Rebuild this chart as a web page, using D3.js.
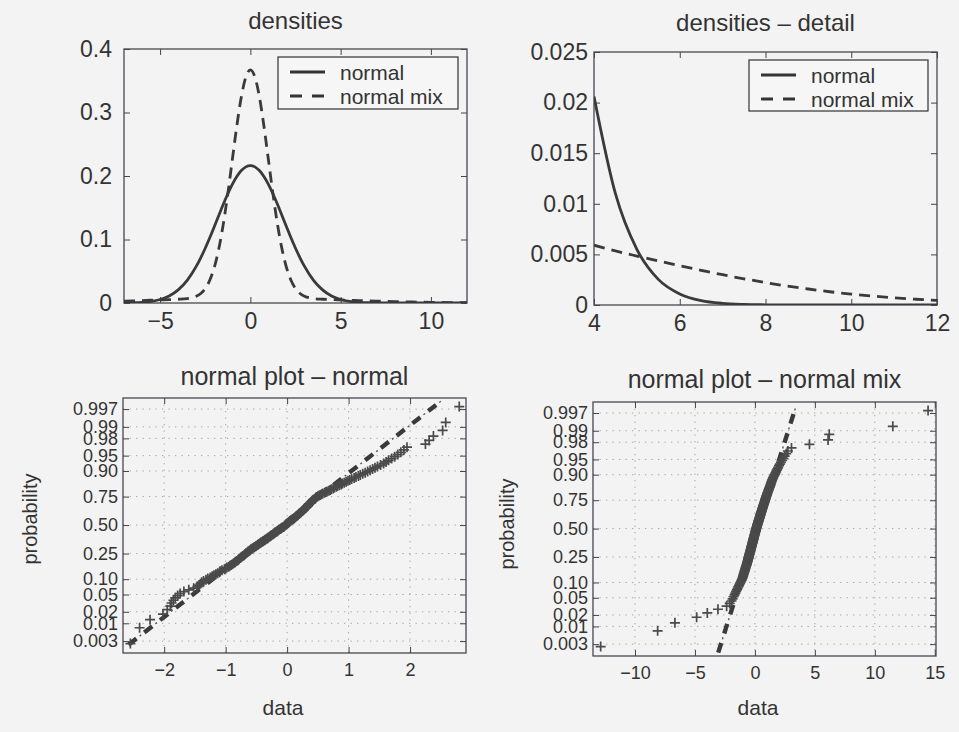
<!DOCTYPE html>
<html>
<head>
<meta charset="utf-8">
<script src="https://cdn.jsdelivr.net/npm/d3@7"></script>
<style>
  body { margin: 0; background: #f3f3f3; }
  svg { display: block; font-family: "Liberation Sans", Arial, sans-serif; }
</style>
</head>
<body>
<div id="chart"></div>
<script>
// density curves
const densityX = [-7,-6.5,-6,-5.5,-5,-4.5,-4,-3.5,-3,-2.75,-2.5,-2.25,-2,-1.75,-1.5,-1.25,-1,-0.75,-0.5,-0.25,0,
  0.25,0.5,0.75,1,1.25,1.5,1.75,2,2.25,2.5,2.75,3,3.5,4,4.5,5,5.5,6,6.5,7,7.5,8,8.5,9,9.5,10,10.5,11,11.5,12];
const normalDensity = [0.00016,0.00043,0.00109,0.00253,0.0055,0.0110,0.0206,0.0357,
  0.0576,0.0712,0.0863,0.1028,0.1202,0.1379,0.1554,0.1720,0.1868,0.1992,0.2086,0.2144,0.2164,
  0.2144,0.2086,0.1992,0.1868,0.1720,0.1554,0.1379,0.1202,0.1028,0.0863,0.0712,0.0576,
  0.0357,0.0206,0.0110,0.0055,0.00253,0.00109,0.00043,0.00016,0.00006,0.00002,0,0,0,0,0,0,0,0];
const mixDensity = [0.00299,0.00343,0.00388,0.00436,0.00484,0.00534,0.00591,0.00704,
  0.01064,0.0150,0.0228,0.0358,0.0559,0.0852,0.1242,0.1721,0.2256,0.2789,0.3248,0.3559,0.367,
  0.3559,0.3248,0.2789,0.2256,0.1721,0.1242,0.0852,0.0559,0.0358,0.0228,0.0150,0.01064,
  0.00704,0.00591,0.00534,0.00484,0.00436,0.00388,0.00343,0.00299,0.00259,0.00222,0.00188,
  0.00158,0.00131,0.00108,0.00088,0.00071,0.00057,0.00045];
const seriesNames = ["normal", "normal mix"];

const densTicksX = [-5, 0, 5, 10];
const densTicksY = [0, 0.1, 0.2, 0.3, 0.4];
const detailTicksX = [4, 6, 8, 10, 12];
const detailTicksY = [0, 0.005, 0.01, 0.015, 0.02, 0.025];

// sorted samples (n = 200)
const normalSample = [-2.55,-2.40,-2.23,-2.02,-1.95,-1.90,-1.88,-1.85,-1.82,-1.78,-1.74,-1.68,-1.60,-1.52,-1.46,-1.43,-1.41,-1.39,-1.36,-1.32,
  -1.29,-1.25,-1.22,-1.19,-1.16,-1.13,-1.10,-1.09,-1.06,-1.02,
  -1.00,-0.98,-0.95,-0.93,-0.91,-0.89,-0.87,-0.85,-0.84,-0.82,
  -0.80,-0.79,-0.78,-0.76,-0.75,-0.73,-0.72,-0.70,-0.69,-0.68,
  -0.67,-0.65,-0.64,-0.63,-0.61,-0.60,-0.59,-0.57,-0.56,-0.54,
  -0.53,-0.51,-0.50,-0.48,-0.47,-0.46,-0.44,-0.43,-0.42,-0.40,
  -0.39,-0.37,-0.36,-0.35,-0.33,-0.32,-0.31,-0.30,-0.28,-0.27,
  -0.26,-0.25,-0.23,-0.22,-0.21,-0.20,-0.19,-0.17,-0.16,-0.15,
  -0.14,-0.13,-0.11,-0.10,-0.09,-0.08,-0.06,-0.05,-0.04,-0.03,
  -0.02,-0.01,0.00,0.01,0.02,0.03,0.04,0.05,0.06,0.07,
  0.09,0.10,0.11,0.12,0.13,0.14,0.15,0.16,0.17,0.18,
  0.19,0.20,0.21,0.22,0.23,0.24,0.25,0.26,0.27,0.28,
  0.29,0.30,0.31,0.32,0.33,0.34,0.34,0.35,0.36,0.37,
  0.38,0.39,0.40,0.41,0.42,0.43,0.45,0.46,0.47,0.48,
  0.50,0.52,0.54,0.56,0.58,0.61,0.63,0.65,0.68,0.70,
  0.72,0.75,0.77,0.80,0.82,0.85,0.88,0.90,0.93,0.96,
  0.99,1.02,1.05,1.09,1.12,1.16,1.19,1.23,1.27,1.31,
  1.35,1.39,1.43,1.47,1.52,1.57,1.61,1.65,1.70,1.75,
  1.80,1.85,1.90,1.95,2.25,2.31,2.38,2.53,2.58,2.80];
const mixSample = [-12.86,-8.11,-6.67,-4.86,-3.97,-3.08,-2.36,-2.10,-1.95,
  -1.86,-1.78,-1.70,-1.63,-1.57,-1.50,-1.44,-1.39,-1.33,-1.28,-1.23,
  -1.18,-1.13,-1.09,-1.05,-1.02,-0.99,-0.97,-0.95,-0.92,-0.90,
  -0.87,-0.85,-0.83,-0.81,-0.79,-0.77,-0.75,-0.73,-0.70,-0.68,
  -0.67,-0.65,-0.63,-0.61,-0.60,-0.58,-0.57,-0.55,-0.54,-0.52,
  -0.51,-0.49,-0.48,-0.46,-0.45,-0.44,-0.42,-0.41,-0.39,-0.38,
  -0.37,-0.35,-0.34,-0.33,-0.32,-0.30,-0.29,-0.28,-0.26,-0.25,
  -0.24,-0.23,-0.21,-0.20,-0.19,-0.18,-0.17,-0.15,-0.14,-0.13,
  -0.12,-0.11,-0.09,-0.08,-0.07,-0.06,-0.05,-0.03,-0.02,-0.01,
  0.00,0.01,0.02,0.04,0.05,0.06,0.07,0.08,0.09,0.11,
  0.12,0.13,0.14,0.16,0.17,0.18,0.20,0.21,0.22,0.24,
  0.25,0.27,0.28,0.29,0.31,0.32,0.33,0.35,0.36,0.38,
  0.39,0.40,0.42,0.43,0.45,0.46,0.47,0.49,0.50,0.52,
  0.53,0.55,0.56,0.58,0.59,0.61,0.62,0.64,0.66,0.67,
  0.69,0.70,0.72,0.74,0.75,0.77,0.79,0.81,0.82,0.84,
  0.86,0.88,0.89,0.91,0.93,0.95,0.97,0.99,1.01,1.03,
  1.05,1.08,1.10,1.13,1.15,1.17,1.20,1.23,1.25,1.28,
  1.31,1.33,1.36,1.39,1.42,1.45,1.49,1.52,1.57,1.62,
  1.67,1.72,1.77,1.82,1.88,1.94,2.01,2.08,2.17,2.27,
  2.37,2.48,2.61,2.75,3.05,4.55,6.10,6.20,11.50,14.44];

// reference lines of the probability plots (end points)
const normalFitX = [-2.58, 2.55];
const normalFitP = [0.0023, 0.9986];
const mixFitX = [-3.06, 3.47];
const mixFitP = [0.0016, 0.9984];

const probTicks = [0.003, 0.01, 0.02, 0.05, 0.10, 0.25, 0.50, 0.75, 0.90, 0.95, 0.98, 0.99, 0.997];
const probTickLabels = ["0.003","0.01","0.02","0.05","0.10","0.25","0.50","0.75","0.90","0.95","0.98","0.99","0.997"];
const qqTicksNormal = [-2, -1, 0, 1, 2];
const qqTicksMix = [-10, -5, 0, 5, 10, 15];

const ink = "#333";
const W = 959, H = 732;

// inverse of the standard normal cdf (Acklam), used for the probability axis
function probit(p) {
  const a = [-3.969683028665376e+01, 2.209460984245205e+02, -2.759285104469687e+02, 1.383577518672690e+02, -3.066479806614716e+01, 2.506628277459239e+00];
  const b = [-5.447609879822406e+01, 1.615858368580409e+02, -1.556989798598866e+02, 6.680131188771972e+01, -1.328068155288572e+01];
  const c = [-7.784894002430293e-03, -3.223964580411365e-01, -2.400758277161838e+00, -2.549732539343734e+00, 4.374664141464968e+00, 2.938163982698783e+00];
  const d = [7.784695709041462e-03, 3.224671290700398e-01, 2.445134137142996e+00, 3.754408661907416e+00];
  const lo = 0.02425;
  if (p < lo) {
    const q = Math.sqrt(-2 * Math.log(p));
    return (((((c[0]*q+c[1])*q+c[2])*q+c[3])*q+c[4])*q+c[5]) / ((((d[0]*q+d[1])*q+d[2])*q+d[3])*q+1);
  }
  if (p > 1 - lo) return -probit(1 - p);
  const q = p - 0.5, r = q * q;
  return (((((a[0]*r+a[1])*r+a[2])*r+a[3])*r+a[4])*r+a[5])*q / (((((b[0]*r+b[1])*r+b[2])*r+b[3])*r+b[4])*r+1);
}

const svg = d3.select("#chart").append("svg")
  .attr("width", W)
  .attr("height", H);
svg.append("rect").attr("width", W).attr("height", H).attr("fill", "#f3f3f3");

let clipN = 0;
function clipFor(box) {
  const id = "clip" + (clipN++);
  svg.append("clipPath").attr("id", id).append("rect")
    .attr("x", box.l).attr("y", box.t).attr("width", box.r - box.l).attr("height", box.b - box.t);
  return `url(#${id})`;
}

const numFmt = d => d < 0 ? "\u2212" + Math.abs(d) : String(d);

function drawAxes(box, x, y, o) {
  const g = svg.append("g");
  g.append("g").attr("transform", `translate(0,${box.b})`)
    .call(d3.axisBottom(x).tickValues(o.xTicks).tickFormat(numFmt).tickSizeInner(-6).tickSizeOuter(0).tickPadding(o.xPad));
  g.append("g").attr("transform", `translate(0,${box.t})`)
    .call(d3.axisTop(x).tickValues(o.xTicks).tickFormat("").tickSizeInner(-6).tickSizeOuter(0));
  g.append("g").attr("transform", `translate(${box.l},0)`)
    .call(d3.axisLeft(y).tickValues(o.yTicks).tickFormat(o.yFmt).tickSizeInner(-6).tickSizeOuter(0).tickPadding(o.yPad));
  g.append("g").attr("transform", `translate(${box.r},0)`)
    .call(d3.axisRight(y).tickValues(o.yTicks).tickFormat("").tickSizeInner(-6).tickSizeOuter(0));
  g.selectAll(".domain").remove();
  g.selectAll(".tick line").attr("stroke", "#444").attr("stroke-width", 1);
  g.selectAll(".tick text").attr("fill", ink)
    .style("font-size", o.fontSize + "px")
    .style("font-family", "'Liberation Sans', Arial, sans-serif");
  g.append("rect")
    .attr("x", box.l).attr("y", box.t)
    .attr("width", box.r - box.l).attr("height", box.b - box.t)
    .attr("fill", "none").attr("stroke", "#4a4650").attr("stroke-width", 1.3);
}

function title(text, x, y, size) {
  svg.append("text").attr("x", x).attr("y", y)
    .attr("text-anchor", "middle").attr("fill", ink)
    .style("font-size", size + "px").text(text);
}

// ---------- density panels ----------
function densityPanel(box, xDomain, yDomain, o) {
  const x = d3.scaleLinear().domain(xDomain).range([box.l, box.r]);
  const y = d3.scaleLinear().domain(yDomain).range([box.b, box.t]);
  const clip = clipFor(box);
  const idx = densityX.map((v, i) => i).filter(i => densityX[i] >= xDomain[0] && densityX[i] <= xDomain[1]);
  const line = d3.line().x(i => x(densityX[i])).curve(d3.curveMonotoneX);

  drawAxes(box, x, y, o);

  svg.append("path").datum(idx)
    .attr("d", line.y(i => y(mixDensity[i])))
    .attr("fill", "none").attr("stroke", "#3a3a3a").attr("stroke-width", 2.8)
    .attr("stroke-dasharray", "11,7").attr("clip-path", clip);
  svg.append("path").datum(idx)
    .attr("d", line.y(i => y(normalDensity[i])))
    .attr("fill", "none").attr("stroke", "#3a3a3a").attr("stroke-width", 2.8)
    .attr("clip-path", clip);

  // legend
  const L = o.legend;
  const lg = svg.append("g");
  lg.append("rect").attr("x", L.x).attr("y", L.y).attr("width", L.w).attr("height", L.h)
    .attr("fill", "#f6f6f6").attr("stroke", "#333").attr("stroke-width", 1.2);
  seriesNames.forEach((name, k) => {
    const cy = L.y + 15 + k * 24;
    lg.append("line").attr("x1", L.x + 12).attr("x2", L.x + 47).attr("y1", cy).attr("y2", cy)
      .attr("stroke", "#333").attr("stroke-width", 2.8)
      .attr("stroke-dasharray", k === 0 ? null : "12,10");
    lg.append("text").attr("x", L.x + 62).attr("y", cy + 7.5)
      .attr("fill", ink).style("font-size", "21px").text(name);
  });

  title(o.title, (box.l + box.r) / 2, o.titleY, 24);
}

densityPanel({l: 124, r: 467, t: 49, b: 303}, [-7, 12], [0, 0.4], {
  xTicks: densTicksX, yTicks: densTicksY, yFmt: d => String(d),
  xPad: 10, yPad: 12, fontSize: 23,
  legend: {x: 278, y: 57, w: 180, h: 52},
  title: "densities", titleY: 29
});

densityPanel({l: 594, r: 937, t: 52, b: 305}, [4, 12], [0, 0.025], {
  xTicks: detailTicksX, yTicks: detailTicksY, yFmt: d => String(d),
  xPad: 10, yPad: 6, fontSize: 23,
  legend: {x: 749, y: 60, w: 179, h: 51},
  title: "densities \u2013 detail", titleY: 31
});

// ---------- normal probability plots ----------
function probPanel(box, sample, xDomain, xTicks, fitX, fitP, o) {
  const x = d3.scaleLinear().domain(xDomain).range([box.l, box.r]);
  const z = d3.scaleLinear().domain([-3.03, 3.01]).range([box.b, box.t]);
  const y = p => z(probit(p));
  const clip = clipFor(box);
  const n = sample.length;

  // grid
  const grid = svg.append("g").attr("stroke", "#a4a4a4").attr("stroke-width", 1)
    .attr("stroke-dasharray", "1.3,5.2");
  grid.selectAll("line.v").data(xTicks).join("line")
    .attr("x1", d => x(d)).attr("x2", d => x(d)).attr("y1", box.t).attr("y2", box.b);
  grid.selectAll("line.h").data(probTicks).join("line")
    .attr("x1", box.l).attr("x2", box.r).attr("y1", d => y(d)).attr("y2", d => y(d));

  drawAxes(box, x, z, {
    xTicks: xTicks, yTicks: probTicks.map(probit),
    yFmt: (d, i) => probTickLabels[i], xPad: 10, yPad: 5, fontSize: 18
  });

  // reference line (thick dashes with thin dots between)
  const pts = fitX.map((v, i) => [x(v), y(fitP[i])]);
  const fl = d3.line();
  svg.append("path").attr("d", fl(pts)).attr("clip-path", clip)
    .attr("fill", "none").attr("stroke", "#3a3a3a").attr("stroke-width", 4.4)
    .attr("stroke-dasharray", "10,10");
  svg.append("path").attr("d", fl(pts)).attr("clip-path", clip)
    .attr("fill", "none").attr("stroke", "#555").attr("stroke-width", 1.4)
    .attr("stroke-dasharray", "2,18").attr("stroke-dashoffset", -14);

  // sample points, plotted at (i - 0.5) / n
  svg.append("g").attr("clip-path", clip)
    .selectAll("path").data(sample).join("path")
    .attr("transform", (d, i) => `translate(${x(d)},${y((i + 0.5) / n)})`)
    .attr("d", "M-5,0H5M0,-5V5")
    .attr("stroke", "#4a4a4a").attr("stroke-width", 1.7).attr("fill", "none");

  title(o.title, (box.l + box.r) / 2, o.titleY, 25);
  svg.append("text").attr("x", o.xLabelX).attr("y", 715)
    .attr("text-anchor", "middle").attr("fill", ink).style("font-size", "21px").text("data");
  svg.append("text").attr("transform", `translate(${o.yLabelX},${o.yLabelY}) rotate(-90)`)
    .attr("text-anchor", "middle").attr("fill", ink).style("font-size", "20px").text("probability");
}

probPanel({l: 123, r: 466, t: 398, b: 653}, normalSample, [-2.67, 2.91], qqTicksNormal,
  normalFitX, normalFitP,
  {title: "normal plot \u2013 normal", titleY: 385, xLabelX: 283, yLabelX: 37, yLabelY: 519});

probPanel({l: 593, r: 936, t: 402, b: 656}, mixSample, [-13.5, 15.1], qqTicksMix,
  mixFitX, mixFitP,
  {title: "normal plot \u2013 normal mix", titleY: 388, xLabelX: 758, yLabelX: 514, yLabelY: 524});
</script>
</body>
</html>
